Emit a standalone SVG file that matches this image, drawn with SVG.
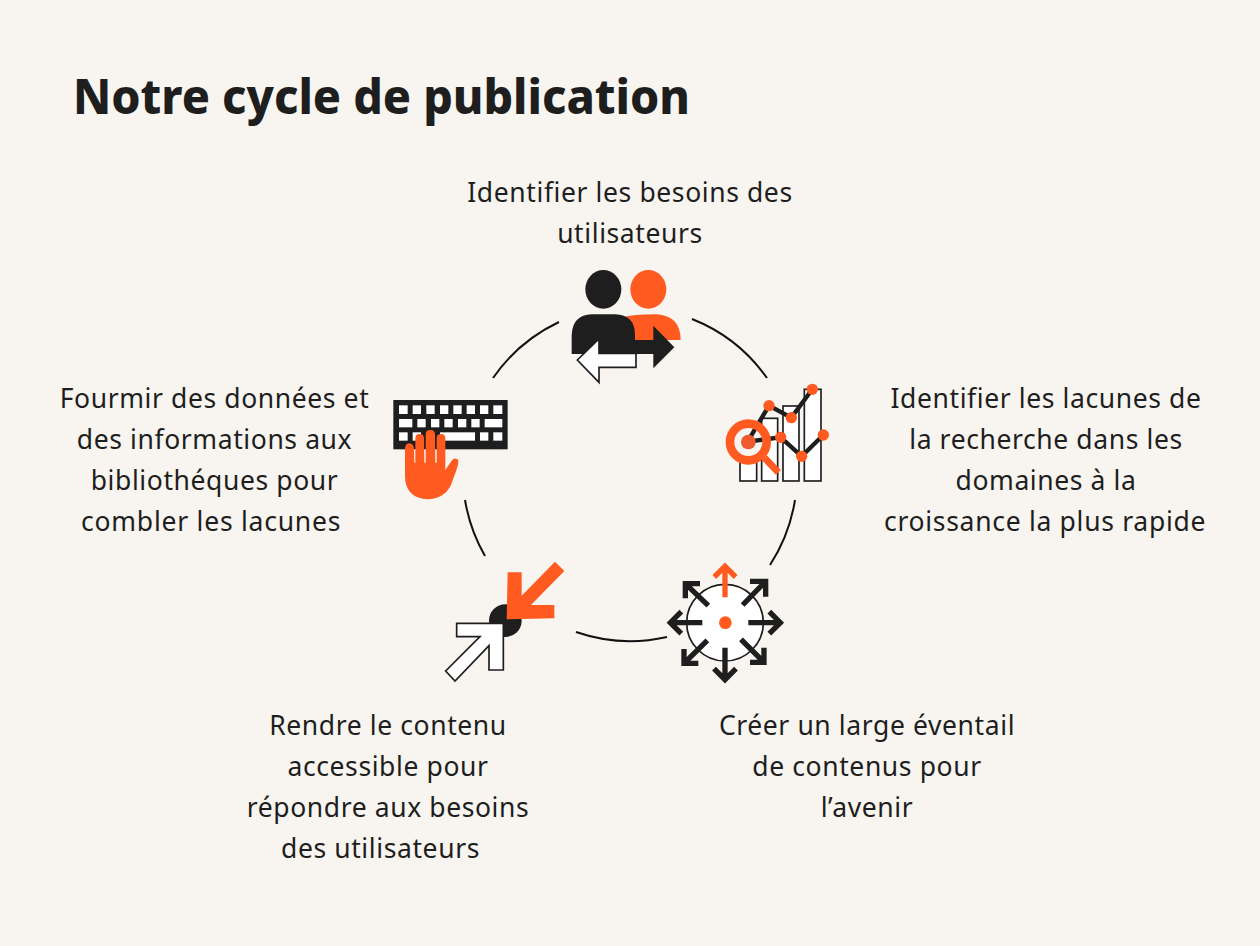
<svg xmlns="http://www.w3.org/2000/svg" width="1260" height="946" viewBox="0 0 1260 946">
<style>
text{font-family:"Noto Sans","Open Sans",sans-serif;fill:#1e1e1e}
.t{font-size:47.500px;font-weight:800}
.l{font-size:26.500px;text-anchor:middle;letter-spacing:.6px}
.o{fill:#ff5a1f}.k{fill:#1e1e1e}
.w{fill:#fff;stroke:#1e1e1e;stroke-width:5}
.a{fill:none;stroke:#1e1e1e;stroke-width:16}
.ao{fill:none;stroke:#ff5a1f;stroke-width:16}
.c{fill:none;stroke:#111;stroke-width:2}
</style>
<rect width="1260" height="946" fill="#f8f5f0"/>
<text id="title" class="t" x="73" y="114" textLength="617" lengthAdjust="spacingAndGlyphs">Notre cycle de publication</text>
<g id="connectors">
<path class="c" d="M692 319A167 167 0 0 1 767 378"/>
<path class="c" d="M795 500A167 167 0 0 1 770 565"/>
<path class="c" d="M667 637A167 167 0 0 1 576 632"/>
<path class="c" d="M485 556A167 167 0 0 1 465 500"/>
<path class="c" d="M493 378A167 167 0 0 1 559 322"/>
</g>
<g id="node-besoins">
<text class="l" x="630" y="201.500">Identifier les besoins des</text>
<text class="l" x="630" y="243">utilisateurs</text>
<g transform="translate(560 260) scale(.3333)">
<ellipse class="k" cx="130" cy="88" rx="54" ry="58"/>
<ellipse class="o" cx="265" cy="88" rx="54" ry="58"/>
<path class="o" d="M190 172Q215 163 290 163Q362 168 362 240H220Z"/>
<path class="k" d="M35 282V225Q38 165 95 163H165Q225 165 225 225V240H280V197L343 262L280 325V282Z"/>
<path class="w" d="M52 300L117 237V280H228V322H117V367Z"/>
</g>
</g>
<g id="node-lacunes">
<text class="l" x="1046" y="408">Identifier les lacunes de</text>
<text class="l" x="1046" y="449">la recherche dans les</text>
<text class="l" x="1046" y="490">domaines à la</text>
<text class="l" x="1045" y="531" textLength="322">croissance la plus rapide</text>
<g transform="translate(715 375) scale(.3333)">
<rect class="w" x="75" y="200" width="50" height="118"/>
<rect class="w" x="140" y="130" width="48" height="188"/>
<rect class="w" x="204" y="93" width="48" height="225"/>
<rect class="w" x="268" y="43" width="50" height="275"/>
<circle cx="100" cy="201" r="55" fill="#f8f5f0"/>
<path fill="none" stroke="#1e1e1e" stroke-width="13" d="M98 200L162 92L229 128L292 43M98 200L197 187L260 244L325 180"/>
<g class="o"><circle cx="162" cy="92" r="17"/><circle cx="229" cy="128" r="17"/><circle cx="292" cy="43" r="17"/><circle cx="197" cy="187" r="17"/><circle cx="260" cy="244" r="17"/><circle cx="325" cy="180" r="17"/></g>
<circle cx="100" cy="201" r="55" fill="none" stroke="#ff5a1f" stroke-width="26"/>
<circle cx="100" cy="201" r="22" fill="#ee5a2d"/>
<path d="M148 248L190 292" stroke="#ff5a1f" stroke-width="21" fill="none"/>
</g>
</g>
<g id="node-contenus">
<text class="l" x="867" y="735">Créer un large éventail</text>
<text class="l" x="867" y="776">de contenus pour</text>
<text class="l" x="867" y="817">l’avenir</text>
<g transform="translate(660 555) scale(.3333)">
<circle cx="195" cy="203" r="115" fill="#fff" stroke="#1e1e1e" stroke-width="5"/>
<circle class="o" cx="196" cy="203" r="19"/>
<path class="ao" d="M195 127V35M163 66L195 34L227 66"/>
<path class="a" d="M265 203H355M328 170L361 203L328 236M127 203H35M64 170L31 203L64 236M195 278V370M162 341L195 374L228 341M248 150L317 79M270 79H317V125M145 152L76 86M120 86H76V130M142 256L72 325M72 282V325H115M243 253L312 322M270 322H312V278"/>
</g>
</g>
<g id="node-accessible">
<text class="l" x="388" y="735">Rendre le contenu</text>
<text class="l" x="388" y="776">accessible pour</text>
<text class="l" x="388" y="817">répondre aux besoins</text>
<text class="l" x="380.500" y="858">des utilisateurs</text>
<g transform="translate(440 555) scale(.3333)">
<circle class="k" cx="196" cy="197" r="49"/>
<path class="o" d="M203 52H245V122L345 20L373 48L273 150H343V190L200 193Z"/>
<path class="w" d="M50 205H190V345H147V272L45 378L17 348L120 245H50Z"/>
</g>
</g>
<g id="node-bibliotheques">
<text class="l" x="214.500" y="408">Fourmir des données et</text>
<text class="l" x="214.500" y="449">des informations aux</text>
<text class="l" x="214.500" y="490">bibliothéques pour</text>
<text class="l" x="211" y="531" textLength="260">combler les lacunes</text>
<g transform="translate(385 390) scale(.3333)">
<rect class="k" x="25" y="30" width="343" height="148"/>
<g fill="#fff">
<rect x="42" y="46" width="26" height="26"/><rect x="83" y="46" width="25" height="26"/><rect x="124" y="46" width="25" height="26"/><rect x="165" y="46" width="25" height="26"/><rect x="205" y="46" width="25" height="26"/><rect x="245" y="46" width="25" height="26"/><rect x="285" y="46" width="25" height="26"/><rect x="325" y="46" width="27" height="26"/>
<rect x="42" y="87" width="40" height="25"/><rect x="97" y="87" width="25" height="25"/><rect x="138" y="87" width="25" height="25"/><rect x="178" y="87" width="25" height="25"/><rect x="219" y="87" width="25" height="25"/><rect x="259" y="87" width="25" height="25"/><rect x="299" y="87" width="53" height="25"/>
<rect x="42" y="127" width="26" height="25"/><rect x="83" y="127" width="25" height="25"/><rect x="165" y="127" width="105" height="25"/><rect x="285" y="127" width="25" height="25"/><rect x="325" y="127" width="27" height="25"/>
</g>
<path class="o" d="M60 178Q60 160 73 160Q86 160 87 178L88 218H91V145Q91 132 104 132Q117 132 117 145L118 218H122V133Q122 120 136 120Q150 120 150 133L151 218H155V145Q155 132 168 132Q181 132 181 145V240L200 212Q210 200 220 210Q222 225 205 265Q190 325 130 328Q62 325 60 260Z"/>
</g>
</g>
</svg>
